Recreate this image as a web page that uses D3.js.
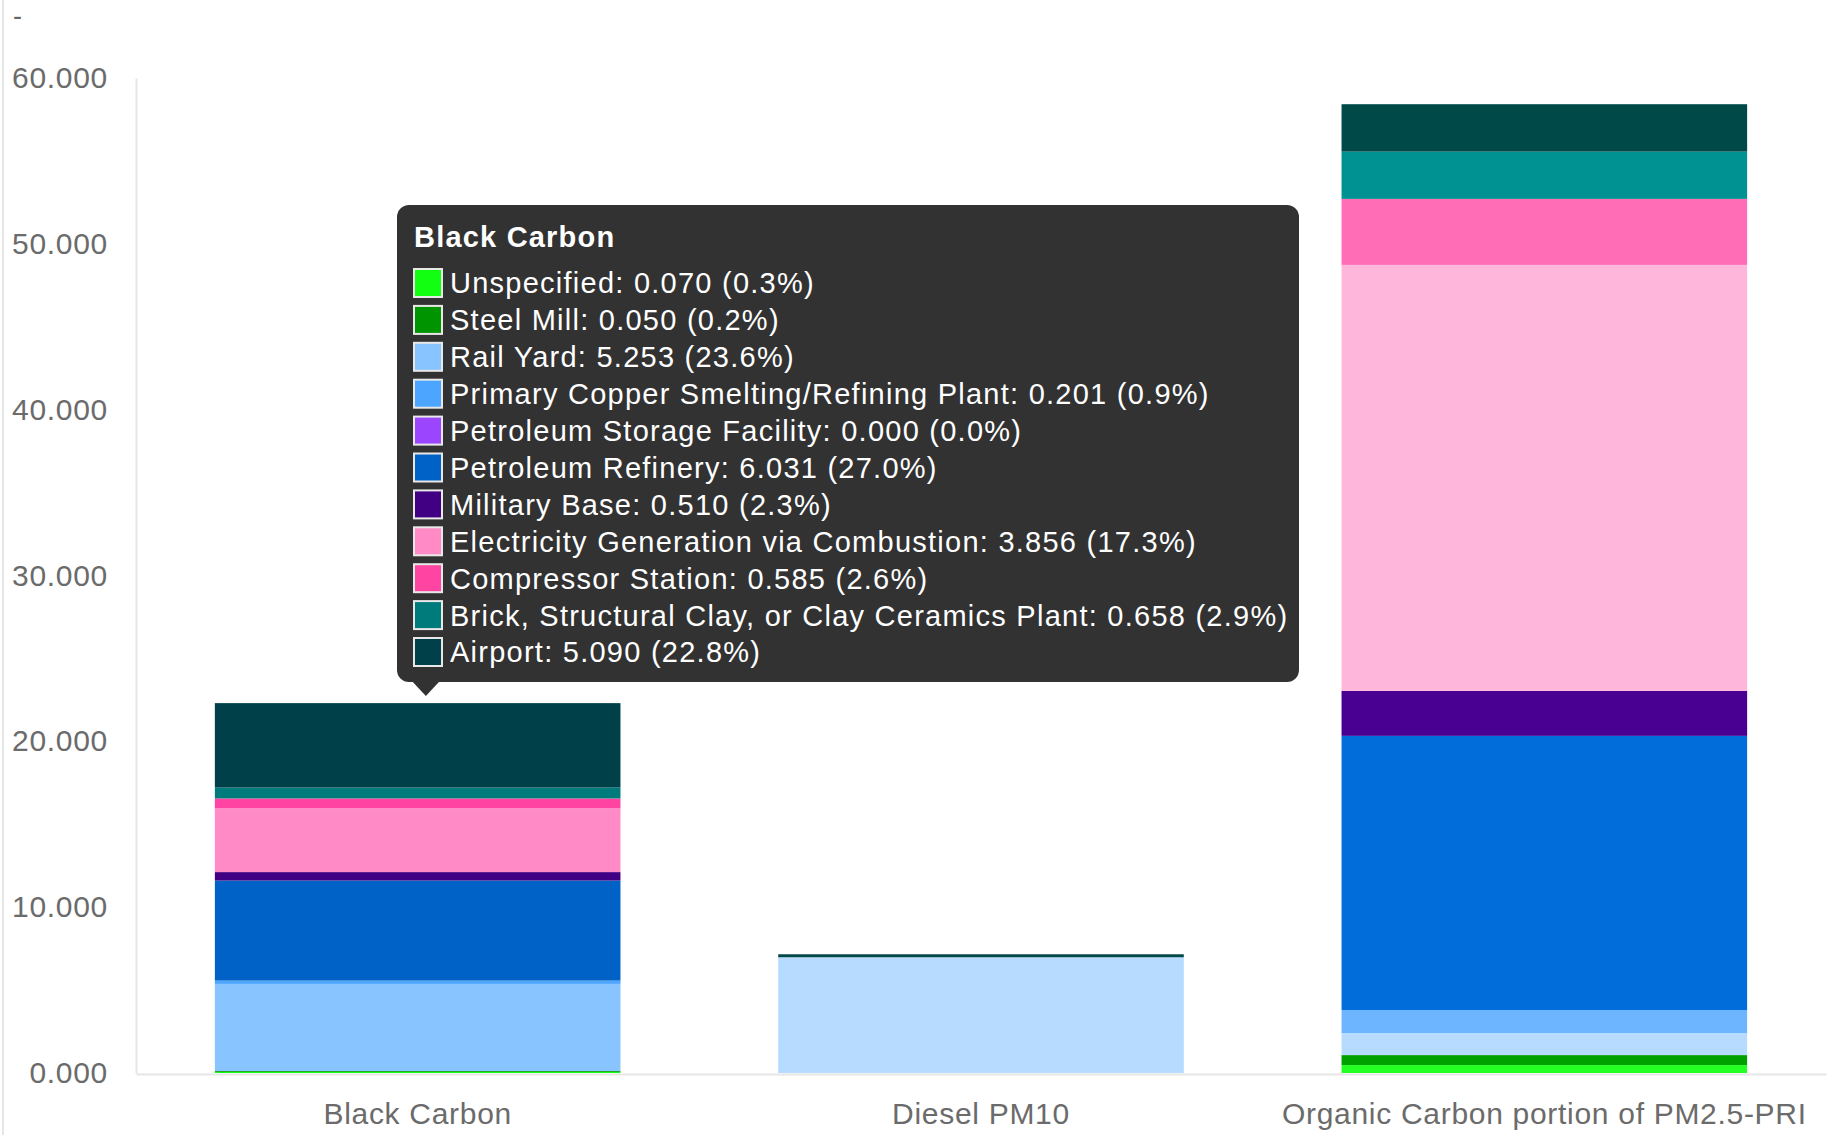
<!DOCTYPE html>
<html>
<head>
<meta charset="utf-8">
<script src="https://cdn.jsdelivr.net/npm/d3@7"></script>
<style>
  body { margin: 0; background: #fff; }
  svg { display: block; font-family: "Liberation Sans", Helvetica, Arial, sans-serif; }
</style>
</head>
<body>
<script>
// categories on the x axis
var categories = ["Black Carbon", "Diesel PM10", "Organic Carbon portion of PM2.5-PRI"];

// source types, stacked bottom -> top
var sources = ["Unspecified", "Steel Mill", "Rail Yard", "Primary Copper Smelting/Refining Plant",
  "Petroleum Storage Facility", "Petroleum Refinery", "Military Base",
  "Electricity Generation via Combustion", "Compressor Station",
  "Brick, Structural Clay, or Clay Ceramics Plant", "Airport"];

// values per source, one per category
var unspecified      = [0.070, 0.00, 0.48];
var steelMill        = [0.050, 0.00, 0.60];
var railYard         = [5.253, 6.98, 1.33];
var primaryCopper    = [0.201, 0.00, 1.39];
var petroleumStorage = [0.000, 0.00, 0.00];
var petroleumRefinery= [6.031, 0.00, 16.53];
var militaryBase     = [0.510, 0.00, 2.71];
var electricity      = [3.856, 0.00, 25.69];
var compressor       = [0.585, 0.00, 3.98];
var brickClay        = [0.6577, 0.00, 2.85];
var airport          = [5.090, 0.18, 2.86];

var seriesValues = [unspecified, steelMill, railYard, primaryCopper, petroleumStorage,
  petroleumRefinery, militaryBase, electricity, compressor, brickClay, airport];

var yTicks = [0, 10, 20, 30, 40, 50, 60];

var baseColors  = ["#24ff24", "#00a000", "#b6dbff", "#6db6ff", "#b66dff", "#006ddb",
  "#490092", "#ffb6db", "#ff6db6", "#009292", "#004949"];
var hoverColors = ["#12ff12", "#009400", "#88c4ff", "#4ca5ff", "#9c45ff", "#0062c6",
  "#410083", "#ff8ac5", "#ff44a2", "#007b7b", "#004048"];

var hovered = 0; // category with the tooltip

var W = 1828, H = 1135;
var svg = d3.select("body").append("svg").attr("width", W).attr("height", H);

// rows for d3.stack
var table = categories.map(function(c, i) {
  var row = { category: c };
  sources.forEach(function(s, j) { row[s] = seriesValues[j][i]; });
  return row;
});
var stacked = d3.stack().keys(sources)(table);

var x = d3.scaleBand().domain(categories).range([136, 1826]).paddingInner(0.28).paddingOuter(0.14);
var y = d3.scaleLinear().domain([0, 60]).range([1073, 78]);

// outer frame line at far left
svg.append("line").attr("x1", 3).attr("x2", 3).attr("y1", 0).attr("y2", H)
  .attr("stroke", "#e6e6e6").attr("stroke-width", 2);

svg.append("text").attr("x", 13).attr("y", 25).attr("font-size", 27).attr("fill", "#666").text("-");

// y axis
var yAxis = svg.append("g").attr("transform", "translate(136,0)")
  .call(d3.axisLeft(y).tickValues(yTicks).tickFormat(d3.format(".3f")).tickSize(0).tickPadding(28));
yAxis.select(".domain").attr("stroke", "#e6e6e6").attr("stroke-width", 2);
yAxis.selectAll("text").attr("font-size", 30).attr("fill", "#6b6b6b")
  .attr("font-family", "Liberation Sans, Helvetica, Arial, sans-serif").style("letter-spacing", "0.7px");

// bars
svg.append("g").selectAll("g").data(stacked).enter().append("g")
  .each(function(layer, j) {
    d3.select(this).selectAll("rect").data(layer).enter().append("rect")
      .attr("x", function(d) { return x(d.data.category); })
      .attr("width", x.bandwidth())
      .attr("y", function(d) { return y(d[1]); })
      .attr("height", function(d) { return y(d[0]) - y(d[1]); })
      .attr("fill", function(d, i) { return i === hovered ? hoverColors[j] : baseColors[j]; });
  });

// x axis
var xAxis = svg.append("g").attr("transform", "translate(0,1074)")
  .call(d3.axisBottom(x).tickSize(0).tickPadding(29));
xAxis.select(".domain").attr("stroke", "#e6e6e6").attr("stroke-width", 2);
xAxis.selectAll("text").attr("font-size", 30).attr("fill", "#6b6b6b")
  .attr("font-family", "Liberation Sans, Helvetica, Arial, sans-serif").style("letter-spacing", "0.7px");

// tooltip for the hovered category
var total = d3.sum(seriesValues, function(v) { return v[hovered]; });
var tip = svg.append("g");
tip.append("rect").attr("x", 397).attr("y", 205).attr("width", 902).attr("height", 477)
  .attr("rx", 12).attr("fill", "#323232");
var tipX = x(categories[hovered]) + 211;
tip.append("path")
  .attr("d", "M" + (tipX - 14) + ",681 L" + (tipX + 14) + ",681 L" + tipX + ",696 Z")
  .attr("fill", "#323232");
tip.append("text").attr("x", 414).attr("y", 247).attr("font-size", 29).attr("font-weight", "bold")
  .attr("fill", "#fff").style("letter-spacing", "1.2px").text(categories[hovered]);

var rows = tip.selectAll("g.row").data(sources).enter().append("g")
  .attr("transform", function(d, j) { return "translate(0," + (283 + j * 36.9) + ")"; });
rows.append("rect").attr("x", 414).attr("y", -14).attr("width", 28).attr("height", 28)
  .attr("fill", function(d, j) { return hoverColors[j]; })
  .attr("stroke", "#e8e8e8").attr("stroke-width", 2);
rows.append("text").attr("x", 450).attr("dy", "0.36em").attr("font-size", 29).attr("fill", "#fff")
  .style("letter-spacing", "1.25px")
  .text(function(d, j) {
    var v = seriesValues[j][hovered];
    return d + ": " + v.toFixed(3) + " (" + (v / total * 100).toFixed(1) + "%)";
  });
</script>
</body>
</html>
